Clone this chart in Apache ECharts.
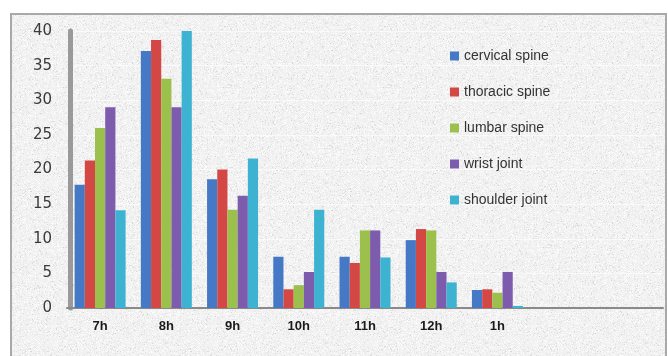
<!DOCTYPE html>
<html>
<head>
<meta charset="utf-8">
<script src="https://cdn.jsdelivr.net/npm/echarts@6/dist/echarts.min.js"></script>
<style>
  html, body { margin: 0; padding: 0; background: #fff; }
  #wrap { position: absolute; left: 0; top: 0; width: 668px; height: 356px; background: #fff; }
  #panel { position: absolute; left: 10px; top: 13px; width: 653px; height: 345px;
           border: 2px solid #a9a9a9; border-bottom: none; }
  #chart { position: absolute; left: 0; top: 0; width: 668px; height: 356px; }
</style>
</head>
<body>
<div id="wrap"><div id="panel"></div><div id="chart"></div></div>
<script>
// Hours of the day (two trailing empty slots on the axis)
const hours = ['7h', '8h', '9h', '10h', '11h', '12h', '1h', '', ''];
const yTicks = [0, 5, 10, 15, 20, 25, 30, 35, 40];

const cervicalSpine  = [17.8, 37.1, 18.6, 7.4, 7.4,  9.8, 2.6];
const thoracicSpine  = [21.3, 38.7, 20.0, 2.7, 6.5, 11.4, 2.7];
const lumbarSpine    = [26.0, 33.1, 14.2, 3.3, 11.2, 11.2, 2.2];
const wristJoint     = [29.0, 29.0, 16.2, 5.2, 11.2, 5.2, 5.2];
const shoulderJoint  = [14.1, 40.0, 21.6, 14.2, 7.3, 3.7, 0.3];

// Light granite-like texture for the panel (deterministic generator)
(function () {
  const size = 160;
  const c = document.createElement('canvas');
  c.width = size; c.height = size;
  const ctx = c.getContext('2d');
  const img = ctx.createImageData(size, size);
  let s = 12345;
  const rnd = () => { s = (s * 1103515245 + 12345) & 0x7fffffff; return s / 0x7fffffff; };
  for (let i = 0; i < size * size; i++) {
    const r = rnd();
    let v = 241 + (r - 0.5) * 14;
    if (r > 0.94) v = 214 + rnd() * 16;
    if (r < 0.10) v = 252;
    img.data[i * 4] = v; img.data[i * 4 + 1] = v; img.data[i * 4 + 2] = v; img.data[i * 4 + 3] = 255;
  }
  ctx.putImageData(img, 0, 0);
  const c2 = document.createElement('canvas');
  c2.width = size; c2.height = size;
  const ctx2 = c2.getContext('2d');
  ctx2.filter = 'blur(0.7px)';
  ctx2.drawImage(c, 0, 0);
  document.getElementById('panel').style.background = 'url(' + c2.toDataURL() + ')';
})();

const colors = ['#4579c6', '#d34845', '#9bc04c', '#7d5cae', '#3db3d1'];
const names = ['cervical spine', 'thoracic spine', 'lumbar spine', 'wrist joint', 'shoulder joint'];
const values = [cervicalSpine, thoracicSpine, lumbarSpine, wristJoint, shoulderJoint];

const chart = echarts.init(document.getElementById('chart'), null, { renderer: 'canvas' });
chart.setOption({
  backgroundColor: 'transparent',
  animation: false,
  color: colors,
  grid: { left: 67, right: 5, top: 31, bottom: 48 },
  legend: {
    orient: 'vertical',
    left: 445, top: 44,
    itemWidth: 9, itemHeight: 9, itemGap: 22,
    icon: 'rect',
    textStyle: { fontFamily: 'Liberation Sans, Arial', fontSize: 14, color: '#333' },
    data: names
  },
  xAxis: {
    type: 'category',
    data: hours,
    axisLine: { lineStyle: { color: '#8a8a8a', width: 2 } },
    axisTick: { length: 4, lineStyle: { color: '#8a8a8a', width: 1 } },
    axisLabel: { margin: 12, fontFamily: 'Liberation Sans, Arial', fontSize: 13, fontWeight: 'bold', color: '#1a1a1a' }
  },
  yAxis: {
    type: 'value',
    min: yTicks[0], max: yTicks[yTicks.length - 1], interval: 5,
    offset: -3,
    axisLine: { show: true, lineStyle: { color: '#9a9a9a', width: 5 } },
    axisTick: { show: false },
    axisLabel: { margin: 18, fontFamily: 'DejaVu Sans, Liberation Sans', fontSize: 15, color: '#3a3a3a' },
    splitLine: { show: true, lineStyle: { color: 'rgba(255,255,255,0.6)', width: 1 } }
  },
  series: names.map((n, i) => ({
    name: n,
    type: 'bar',
    data: values[i],
    barGap: '0%',
    barCategoryGap: '23%',
    itemStyle: { color: colors[i] }
  }))
});
</script>
</body>
</html>
